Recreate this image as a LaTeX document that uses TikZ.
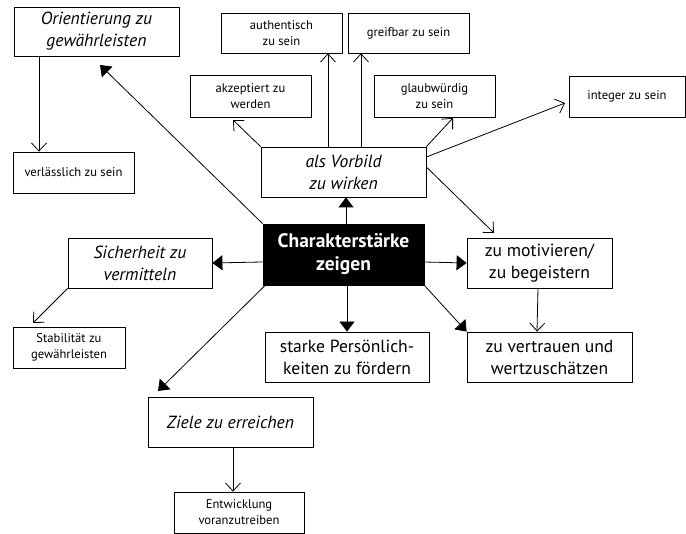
\documentclass[tikz,border=0pt]{standalone}
\usepackage{fontspec}
\setmainfont{PT Sans}
\usetikzlibrary{arrows.meta}
\tikzset{
  bx/.style 2 args={draw, fill=white, line width=0.8pt, minimum width=#1pt, minimum height=#2pt, inner sep=0pt, align=center},
  big/.style={font=\fontsize{17.6}{22}\selectfont},
  bigit/.style={font=\fontsize{17.6}{22}\selectfont\itshape},
  small/.style={font=\fontsize{12.6}{16}\selectfont},
  fa/.style={-{Triangle[length=10pt,width=15pt]}, line width=0.8pt},
  oa/.style={-{Straight Barb[length=8pt,width=15pt]}, line width=0.8pt},
}
\begin{document}
\begin{tikzpicture}[x=1pt,y=-1pt]
\useasboundingbox (0,0) rectangle (686,534);
% nodes
\node[bx={165}{49}, bigit] (ori) at (96.5,31.5) {Orientierung zu\\gewährleisten};
\node[bx={121}{41}, small] (verl) at (73.5,172.5) {verlässlich zu sein};
\node[bx={121}{40}, small] (auth) at (281.5,33) {authentisch\\zu sein};
\node[bx={121}{40}, small] (greif) at (408.5,33) {greifbar zu sein};
\node[bx={121}{42}, small] (akz) at (250.5,96) {akzeptiert zu\\werden};
\node[bx={121}{42}, small] (glaub) at (434.5,96) {glaubwürdig\\zu sein};
\node[bx={116}{41}, small] (integ) at (627,96.5) {integer zu sein};
\node[bx={165}{50}, bigit] (vorb) at (343.5,172) {als Vorbild\\zu wirken};
\node[bx={161}{61}, fill=black, text=white, font=\fontsize{19.5}{23}\selectfont\bfseries] (chara) at (343.5,254.5) {Charakterstärke\\zeigen};
\node[bx={144}{50}, bigit] (sich) at (140,263) {Sicherheit zu\\vermitteln};
\node[bx={145}{50}, big] (motiv) at (539.5,263) {zu motivieren/\\zu begeistern};
\node[bx={112}{41}, small] (stab) at (69,347.5) {Stabilität zu\\gewährleisten};
\node[bx={164}{50}, big] (stark) at (347,357) {starke Persönlich-\\keiten zu fördern};
\node[bx={165}{50}, big] (vertr) at (549.5,357) {zu vertrauen und\\wertzuschätzen};
\node[bx={165}{50}, bigit] (ziele) at (230.5,422) {Ziele zu erreichen};
\node[bx={130}{41}, small] (entw) at (239,512.5) {Entwicklung\\voranzutreiben};
% free ends
\coordinate (tOri) at (100,65);
\coordinate (tZi) at (158,391);
\coordinate (tAkz) at (233,120);
\coordinate (tGl) at (453,118);
\coordinate (tInt) at (565,103);
\coordinate (tMot) at (494,233);
\coordinate (tStab) at (33,323);
% filled arrows from the centre
\draw[fa] (chara.north west) -- (tOri);
\draw[fa] ([xshift=2.5pt]chara.south west) -- (tZi);
\draw[fa] (chara.south east) -- (vertr.north west);
\draw[fa] ([xshift=2.5pt]chara.north) -- ([xshift=2.5pt]vorb.south);
\draw[fa] (chara.south -| stark.north) -- (stark.north);
\draw[fa] ([yshift=-7.5pt]chara.west) -- (sich.east);
\draw[fa] ([yshift=-7.5pt]chara.east) -- (motiv.west);
% open arrows
\draw[oa] ([xshift=-57.5pt]ori.south) -- ([xshift=-34.5pt]verl.north);
\draw[oa] ([xshift=-15.5pt]vorb.north) -- ([xshift=46.5pt]auth.south);
\draw[oa] ([xshift=17.5pt]vorb.north) -- ([xshift=-47.5pt]greif.south);
\draw[oa] (vorb.north west) -- (tAkz);
\draw[oa] (vorb.north east) -- (tGl);
\draw[oa] ([yshift=15pt]vorb.east) -- (tInt);
\draw[oa] ([yshift=5pt]vorb.east) -- (tMot);
\draw[oa] ([xshift=-1.5pt]motiv.south) -- ([xshift=-12.5pt]vertr.north);
\draw[oa] (sich.south west) -- (tStab);
\draw[oa] ([xshift=2.5pt]ziele.south) -- ([xshift=-6pt]entw.north);
\end{tikzpicture}
\end{document}
